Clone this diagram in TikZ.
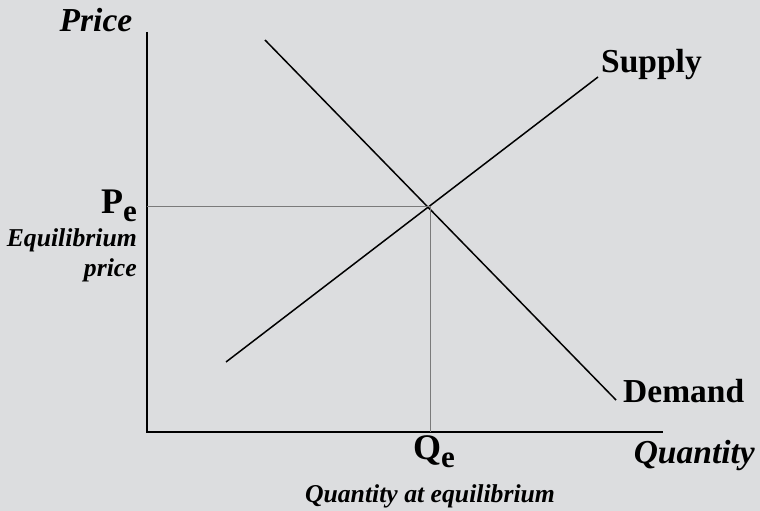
\documentclass[tikz,border=0pt]{standalone}
\usepackage{fontspec}
\setmainfont{Liberation Serif}
\definecolor{bg}{HTML}{DCDDDF}
\definecolor{guide}{HTML}{7A7A7A}
\begin{document}
\begin{tikzpicture}[x=1pt,y=-1pt,
  axis/.style={line width=1.3pt,black},
  curve/.style={line width=1.5pt,black},
  guideline/.style={line width=0.9pt,guide},
  big/.style={font=\fontsize{33.5}{36}\selectfont\bfseries, inner sep=0pt},
  bigit/.style={font=\fontsize{33.5}{36}\selectfont\bfseries\itshape, inner sep=0pt},
  smallit/.style={font=\fontsize{25.7}{29}\selectfont\bfseries\itshape, inner sep=0pt}]
\fill[bg] (0,0) rectangle (760,511);
\useasboundingbox (0,0) rectangle (760,511);
% axes
\coordinate (ytop) at (147,32);
\coordinate (origin) at (147,432);
\coordinate (xend) at (663,432);
\draw[axis] (ytop) -- (origin) -- (xend);
% curves
\coordinate (d1) at (265,40);
\coordinate (d2) at (616,400);
\coordinate (s1) at (226,362);
\coordinate (s2) at (598,77);
\draw[curve] (d1) -- (d2);
\draw[curve] (s1) -- (s2);
% equilibrium
\coordinate (eq) at (430,206);
\coordinate (py) at (147,206);
\coordinate (qx) at (430,432);
\draw[guideline] (py) -- (eq) -- (qx);
% labels
\node[bigit, anchor=base] (price) at (96,32) {Price};
\node[big, anchor=base west] (supply) at (601,72) {Supply};
\node[big, anchor=base west] (demand) at (623,402) {Demand};
\node[big, anchor=base east] (pe) at (137,213) {\fontsize{36}{38}\selectfont P\raisebox{-8pt}{\fontsize{31}{32}\selectfont e}};
\node[smallit, anchor=base east] (eqlab) at (137,246) {Equilibrium};
\node[smallit, anchor=base east] (plab) at (137,276) {price};
\node[big, anchor=base] (qe) at (434,459) {\fontsize{36}{38}\selectfont Q\raisebox{-8pt}{\fontsize{31}{32}\selectfont e}};
\node[bigit, anchor=base east] (quantity) at (755,463) {Quantity};
\node[smallit, anchor=base] (qlab) at (430,502) {Quantity at equilibrium};
\end{tikzpicture}
\end{document}
